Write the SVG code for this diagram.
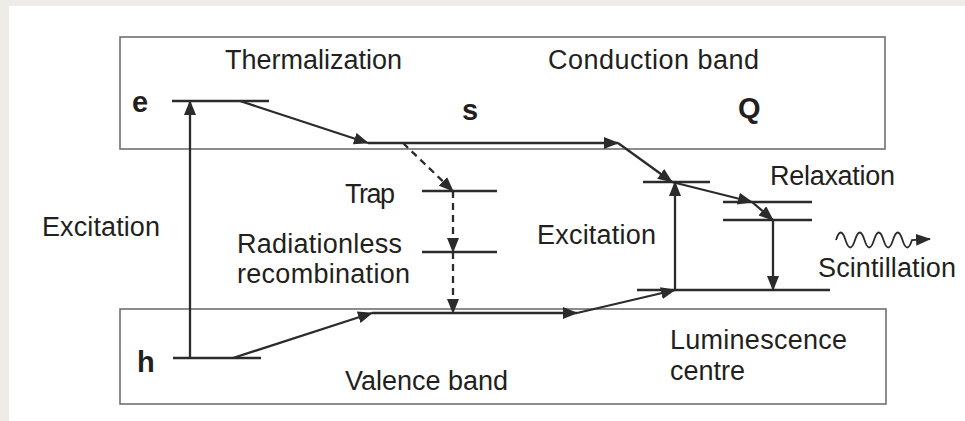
<svg xmlns="http://www.w3.org/2000/svg" width="965" height="421" viewBox="0 0 965 421">
<defs>
<style>
.t{font-family:"Liberation Sans",Arial,sans-serif;font-size:27px;fill:#231f20}
.b{font-family:"Liberation Sans",Arial,sans-serif;font-size:29px;font-weight:bold;fill:#231f20}
.box{fill:none;stroke:#707070;stroke-width:1.6}
.l{fill:none;stroke:#2b2b2b;stroke-width:2.3}
.d{fill:none;stroke:#2b2b2b;stroke-width:2.3;stroke-dasharray:7,5}
.a{marker-end:url(#ah)}
</style>
<marker id="ah" viewBox="0 0 15 12" refX="14" refY="6" markerWidth="15" markerHeight="12" markerUnits="userSpaceOnUse" orient="auto">
<path d="M0,0 L15,6 L0,12 z" fill="#2b2b2b"/>
</marker>
</defs>
<rect x="0" y="0" width="965" height="421" fill="#efece8"/>
<rect x="9" y="6" width="956" height="415" fill="#ffffff"/>

<g id="conduction-band">
<rect class="box" x="120" y="37" width="765" height="112"/>
<text class="t" x="225" y="69" textLength="177">Thermalization</text>
<text class="t" x="548" y="69" textLength="211">Conduction band</text>
<text class="b" x="132" y="112">e</text>
<text class="b" x="462" y="120">s</text>
<text class="b" x="738" y="118">Q</text>
</g>

<g id="valence-band">
<rect class="box" x="120" y="309" width="766" height="95"/>
<text class="b" x="137" y="372">h</text>
<text class="t" x="345" y="390" textLength="163">Valence band</text>
<text class="t" x="670" y="349" textLength="177">Luminescence</text>
<text class="t" x="670" y="380" textLength="75">centre</text>
</g>

<g id="labels">
<text class="t" x="42" y="236" textLength="118">Excitation</text>
<text class="t" x="345" y="203" textLength="50">Trap</text>
<text class="t" x="237" y="253" textLength="165">Radiationless</text>
<text class="t" x="237" y="283" textLength="173">recombination</text>
<text class="t" x="537" y="244" textLength="119">Excitation</text>
<text class="t" x="770" y="185" textLength="125">Relaxation</text>
<text class="t" x="818" y="277" textLength="138">Scintillation</text>
</g>

<g id="levels">
<line class="l" x1="172" y1="101" x2="269" y2="101"/>
<line class="l" x1="173" y1="358" x2="261" y2="358"/>
<line class="l" x1="643" y1="182" x2="710" y2="182"/>
<line class="l" x1="723" y1="202" x2="812" y2="202"/>
<line class="l" x1="723" y1="220" x2="812" y2="220"/>
<line class="l" x1="637" y1="290" x2="830" y2="290"/>
<line class="l" x1="422" y1="191" x2="497" y2="191"/>
<line class="l" x1="422" y1="252" x2="497" y2="252"/>
</g>

<g id="connectors">
<line class="l a" x1="190" y1="358" x2="190" y2="101"/>
<line class="l a" x1="240" y1="101" x2="368" y2="143"/>
<line class="l a" x1="368" y1="143" x2="618" y2="143"/>
<line class="l a" x1="618" y1="143" x2="672" y2="182"/>
<line class="l a" x1="672" y1="182" x2="752" y2="202"/>
<line class="l a" x1="752" y1="202" x2="773" y2="220"/>
<line class="l a" x1="773" y1="220" x2="773" y2="290"/>
<line class="l a" x1="675" y1="290" x2="675" y2="182"/>
<line class="l a" x1="233" y1="358" x2="372" y2="313"/>
<line class="l a" x1="372" y1="313" x2="577" y2="313"/>
<line class="l a" x1="577" y1="313" x2="675" y2="290"/>
<line class="d a" x1="403" y1="143" x2="453" y2="191"/>
<line class="d a" x1="453" y1="191" x2="453" y2="252"/>
<line class="d a" x1="453" y1="252" x2="453" y2="313"/>
<path class="l a" d="M836,240 q4.75,-15 9.5,0 q4.75,15 9.5,0 q4.75,-15 9.5,0 q4.75,15 9.5,0 q4.75,-15 9.5,0 q4.75,15 9.5,0 q4.75,-15 9.5,0 q4.75,15 9.5,0 L930,239" style="stroke-width:1.8"/>
</g>
</svg>
